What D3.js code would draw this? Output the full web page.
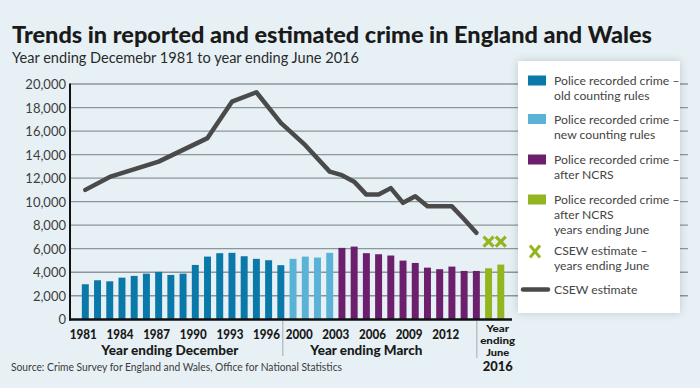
<!DOCTYPE html>
<html><head><meta charset="utf-8">
<script src="https://cdn.jsdelivr.net/npm/d3@7"></script>
<style>html,body{margin:0;padding:0;background:#e7f1f5;} svg{display:block}</style>
</head><body>
<svg id="chart" width="700" height="388"></svg>
<script>
// ---- data ----
const oldYears = ["1981","1982","1983","1984","1985","1986","1987","1988","1989","1990","1991","1992","1993","1994","1995","1996","1997"];
const oldValues = [2980, 3320, 3230, 3540, 3690, 3880, 4030, 3770, 3880, 4620, 5330, 5620, 5650, 5360, 5140, 5020, 4600];
const newYears = ["1999","2000","2001","2002"];
const newValues = [5140, 5330, 5250, 5650];
const ncrsYears = ["2003","2004","2005","2006","2007","2008","2009","2010","2011","2012","2013","2014"];
const ncrsValues = [6070, 6180, 5620, 5530, 5420, 4990, 4790, 4390, 4260, 4480, 4110, 4110];
const juneYears = ["Jun 2015","Jun 2016"];
const juneValues = [4340, 4650];
const csewYears = ["1981","1983","1987","1991","1993","1995","1997","2000","2002","2003","2004","2005","2006","2007","2008","2009","2010","2011","2012","2013","2014"];
const csewValues = [11000, 12100, 13400, 15400, 18500, 19300, 16700, 14800, 12550, 12250, 11700, 10600, 10600, 11150, 9900, 10450, 9600, 9600, 9600, 8500, 7350];
const csewJuneYears = ["Jun 2015","Jun 2016"];
const csewJuneValues = [6600, 6600];
const yTicks = [0, 2000, 4000, 6000, 8000, 10000, 12000, 14000, 16000, 18000, 20000];
const decLabels = ["1981","1984","1987","1990","1993","1996"];
const marLabels = ["2000","2003","2006","2009","2012"];
const legendItems = [
  {type:"rect", color:"#0a79a9", lines:["Police recorded crime –","old counting rules"]},
  {type:"rect", color:"#5ab3d7", lines:["Police recorded crime –","new counting rules"]},
  {type:"rect", color:"#6c1f6c", lines:["Police recorded crime –","after NCRS"]},
  {type:"rect", color:"#93b51f", lines:["Police recorded crime –","after NCRS","years ending June"]},
  {type:"x", color:"#93b51f", lines:["CSEW estimate –","years ending June"]},
  {type:"line", color:"#4a4a4a", lines:["CSEW estimate"]}
];

// ---- setup ----
const svg = d3.select("#chart");
const FONT = "Lato, 'Open Sans', 'Liberation Sans', sans-serif";
const allCats = [...oldYears, ...newYears, ...ncrsYears, ...juneYears];
const x = d3.scaleBand().domain(allCats).range([79.2, 506.9]).paddingInner(0.43).paddingOuter(0.215);
const y = d3.scaleLinear().domain([0, 20000]).range([319.3, 84]);
const bw = x.bandwidth();
const cx = c => x(c) + bw / 2;

svg.append("rect").attr("width",700).attr("height",388).attr("fill","#e7f1f5");

// title
svg.append("text").attr("x",12).attr("y",43).attr("font-family",FONT).attr("font-weight",900)
  .attr("font-size",22).attr("fill","#1a1a1a").attr("textLength",640).attr("lengthAdjust","spacingAndGlyphs")
  .text("Trends in reported and estimated crime in England and Wales");
svg.append("text").attr("x",12).attr("y",62.5).attr("font-family",FONT).attr("font-weight",400)
  .attr("font-size",14.5).attr("fill","#2a2a2a").attr("textLength",347).attr("lengthAdjust","spacingAndGlyphs")
  .text("Year ending Decemebr 1981 to year ending June 2016");

// gridlines
svg.append("g").selectAll("line").data(yTicks.filter(d => d > 0)).join("line")
  .attr("x1",70).attr("x2",688).attr("y1",d => y(d)).attr("y2",d => y(d))
  .attr("stroke","#8d969b").attr("stroke-width",1.3);

// y axis labels
const yAxis = svg.append("g").attr("transform","translate(70,0)")
  .call(d3.axisLeft(y).tickValues(yTicks).tickSize(0).tickPadding(4).tickFormat(d3.format(",")));
yAxis.select(".domain").remove();
yAxis.selectAll("text").attr("font-family",FONT).attr("font-size",13).attr("fill","#3d3d3d").attr("dy","0.36em");

// bars
function bars(cats, vals, color) {
  svg.append("g").selectAll("rect").data(cats.map((c,i)=>({c, v: vals[i]}))).join("rect")
    .attr("x", d => x(d.c)).attr("width", bw)
    .attr("y", d => y(d.v)).attr("height", d => y(0) - y(d.v)).attr("fill", color);
}
bars(oldYears, oldValues, "#0a79a9");
bars(newYears, newValues, "#5ab3d7");
bars(ncrsYears, ncrsValues, "#6c1f6c");
bars(juneYears, juneValues, "#93b51f");

// CSEW line
const csew = csewYears.map((c,i)=>({c, v: csewValues[i]}));
svg.append("path").datum(csew)
  .attr("d", d3.line().x(d => cx(d.c)).y(d => y(d.v)))
  .attr("fill","none").attr("stroke","#4a4a4a").attr("stroke-width",4.5).attr("stroke-linejoin","round").attr("stroke-linecap","round");

// CSEW June markers
const xs = 5;
svg.append("g").selectAll("path").data(csewJuneYears.map((c,i)=>({c, v: csewJuneValues[i]}))).join("path")
  .attr("transform", d => `translate(${cx(d.c)},${y(d.v)})`)
  .attr("d", `M${-xs},${-xs}L${xs},${xs}M${-xs},${xs}L${xs},${-xs}`)
  .attr("stroke","#93b51f").attr("stroke-width",3.2).attr("fill","none");

// axes lines
svg.append("line").attr("x1",70).attr("x2",70).attr("y1",83.5).attr("y2",320.5).attr("stroke","#111").attr("stroke-width",2);
svg.append("line").attr("x1",69).attr("x2",512).attr("y1",319.5).attr("y2",319.5).attr("stroke","#111").attr("stroke-width",2.5);

// x labels
const step = x.step();
const lab = svg.append("g").attr("font-family",FONT).attr("font-weight",900).attr("font-size",13).attr("fill","#1a1a1a").attr("text-anchor","middle");
decLabels.forEach(c => lab.append("text").attr("x", cx(c) - 2).attr("y",338.5).attr("textLength",27).attr("lengthAdjust","spacingAndGlyphs").text(c));
marLabels.forEach(c => lab.append("text").attr("x", cx(c) - step/2).attr("y",338.5).attr("textLength",27).attr("lengthAdjust","spacingAndGlyphs").text(c));
lab.append("text").attr("x", cx("1988") - 1).attr("y",354.5).attr("font-size",13)
  .attr("textLength",137).attr("lengthAdjust","spacingAndGlyphs").text("Year ending December");
lab.append("text").attr("x", cx("2005")).attr("y",354.5).attr("font-size",13)
  .attr("textLength",112).attr("lengthAdjust","spacingAndGlyphs").text("Year ending March");
const jx = (cx("Jun 2015") + cx("Jun 2016")) / 2 + 3;
lab.append("text").attr("x", jx).attr("y",331.5).attr("font-size",10).attr("textLength",23).attr("lengthAdjust","spacingAndGlyphs").text("Year");
lab.append("text").attr("x", jx).attr("y",343.5).attr("font-size",10).attr("textLength",35).attr("lengthAdjust","spacingAndGlyphs").text("ending");
lab.append("text").attr("x", jx).attr("y",355.5).attr("font-size",10).attr("textLength",23).attr("lengthAdjust","spacingAndGlyphs").text("June");
lab.append("text").attr("x", jx).attr("y",371).attr("font-size",13.5).attr("textLength",30).attr("lengthAdjust","spacingAndGlyphs").text("2016");

// separators
[oldYears[oldYears.length-1], ncrsYears[ncrsYears.length-1]].forEach((c,i) => {
  const sx = cx(c) + (i === 0 ? 2 : 0.5);
  svg.append("line").attr("x1",sx).attr("x2",sx).attr("y1",321).attr("y2", i === 0 ? 356 : 358)
    .attr("stroke","#a3abb0").attr("stroke-width",1);
});

// source
svg.append("text").attr("x",11).attr("y",371).attr("font-family",FONT).attr("font-size",11)
  .attr("fill","#3a3a3a").attr("textLength",331).attr("lengthAdjust","spacingAndGlyphs")
  .text("Source: Crime Survey for England and Wales, Office for National Statistics");

// legend
const defs = svg.append("defs");
const f = defs.append("filter").attr("id","sh").attr("x","-20%").attr("y","-20%").attr("width","140%").attr("height","140%");
f.append("feDropShadow").attr("dx",0).attr("dy",0).attr("stdDeviation",4).attr("flood-color","#000").attr("flood-opacity",0.18);
const lg = svg.append("g");
lg.append("rect").attr("x",518).attr("y",61).attr("width",162).attr("height",252).attr("fill","#fff").attr("filter","url(#sh)");
const firstBase = [85, 123.5, 164, 204, 255, 293.5];
legendItems.forEach((it, i) => {
  const b = firstBase[i];
  if (it.type === "rect") {
    lg.append("rect").attr("x",528).attr("y",b-9.5).attr("width",18).attr("height",10).attr("fill",it.color);
  } else if (it.type === "x") {
    lg.append("path").attr("transform",`translate(535,${b-3.5})`)
      .attr("d","M-5,-6L5,6M-5,6L5,-6").attr("stroke",it.color).attr("stroke-width",3).attr("fill","none");
  } else {
    lg.append("line").attr("x1",523).attr("x2",548).attr("y1",b-4).attr("y2",b-4)
      .attr("stroke",it.color).attr("stroke-width",4.5).attr("stroke-linecap","round");
  }
  it.lines.forEach((t, j) => {
    lg.append("text").attr("x",554).attr("y", b + j*15).attr("font-family",FONT).attr("font-size",12.2)
      .attr("fill","#444").text(t);
  });
});
</script>
</body></html>
